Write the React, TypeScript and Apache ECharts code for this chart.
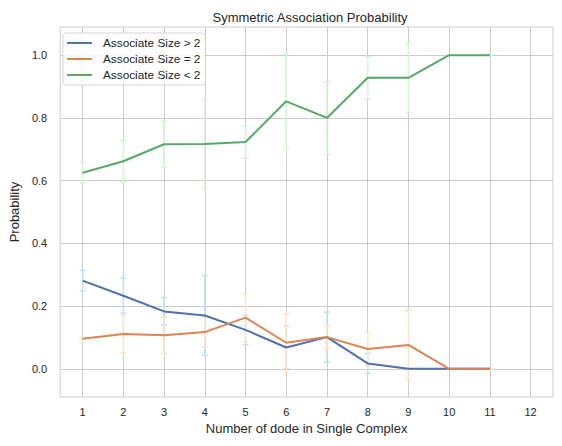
import React, { useEffect, useRef } from "react";
import * as echarts from "echarts";

const xValues = [1, 2, 3, 4, 5, 6, 7, 8, 9, 10, 11];
const xTicks = [1, 2, 3, 4, 5, 6, 7, 8, 9, 10, 11, 12];
const yTicks = [0.0, 0.2, 0.4, 0.6, 0.8, 1.0];

const gtTwo = [0.281, 0.233, 0.183, 0.170, 0.124, 0.068, 0.101, 0.017, 0.0, 0.0, 0.0];
const gtTwoErr = [0.033, 0.056, 0.044, 0.127, 0.047, 0.068, 0.080, 0.032, 0, 0, 0];

const eqTwo = [0.096, 0.111, 0.107, 0.117, 0.163, 0.083, 0.101, 0.063, 0.076, 0.0, 0.0];
const eqTwoErr = [0.004, 0.060, 0.058, 0.048, 0.077, 0.092, 0.037, 0.053, 0.110, 0, 0];

const ltTwo = [0.625, 0.662, 0.716, 0.717, 0.723, 0.853, 0.800, 0.928, 0.928, 1.0, 1.0];
const ltTwoErr = [0.032, 0.066, 0.074, 0.141, 0.051, 0.152, 0.115, 0.068, 0.111, 0, 0];

const seriesNames = ["Associate Size > 2", "Associate Size = 2", "Associate Size < 2"];
const lineColors = ["#4C72B0", "#DD8452", "#55A868"];
const errColors = ["#c6dff3", "#fde2cc", "#d6f4d6"];

const FONT = "'Liberation Sans', Arial, sans-serif";
const TEXT = "#262626";

function errSeries(name: string, vals: number[], errs: number[], color: string) {
  return {
    name,
    type: "custom",
    z: 1,
    silent: true,
    data: xValues.map((x, i) => [x, vals[i], errs[i]]),
    renderItem: (_params: any, api: any) => {
      const x = api.value(0);
      const y = api.value(1);
      const e = api.value(2);
      const top = api.coord([x, y + e]);
      const bot = api.coord([x, y - e]);
      const cap = 3;
      const style = { stroke: color, lineWidth: 1.6 };
      return {
        type: "group",
        children: [
          { type: "line", shape: { x1: top[0], y1: top[1], x2: bot[0], y2: bot[1] }, style },
          { type: "line", shape: { x1: top[0] - cap, y1: top[1], x2: top[0] + cap, y2: top[1] }, style },
          { type: "line", shape: { x1: bot[0] - cap, y1: bot[1], x2: bot[0] + cap, y2: bot[1] }, style },
        ],
      };
    },
  };
}

function lineSeries(name: string, vals: number[], color: string, z: number) {
  return {
    name,
    type: "line",
    z,
    data: xValues.map((x, i) => [x, vals[i]]),
    symbol: "none",
    lineStyle: { color, width: 2 },
    itemStyle: { color },
  };
}

export default function App() {
  const ref = useRef<HTMLDivElement>(null);
  useEffect(() => {
    if (!ref.current) return;
    const chart = echarts.init(ref.current, undefined, { renderer: "svg" });
    chart.setOption({
      animation: false,
      backgroundColor: "#ffffff",
      textStyle: { fontFamily: FONT },
      title: {
        text: "Symmetric Association Probability",
        left: 305,
        textAlign: "center",
        top: 6,
        textStyle: { fontFamily: FONT, fontSize: 13, fontWeight: "normal", color: TEXT },
      },
      legend: {
        orient: "vertical",
        left: 63,
        top: 33,
        data: seriesNames.map((n, i) => ({ name: n, icon: "rect", itemStyle: { color: lineColors[i] } })),
        itemWidth: 25,
        itemHeight: 2,
        itemGap: 4,
        padding: [4, 5, 4, 4],
        backgroundColor: "rgba(255,255,255,0.85)",
        borderColor: "#d6d6d6",
        borderWidth: 1,
        borderRadius: 3,
        textStyle: { fontFamily: FONT, fontSize: 11.8, color: TEXT, padding: [0, 0, 0, 6] },
      },
      grid: {
        left: 57,
        right: 9,
        top: 27,
        bottom: 49,
        show: true,
        borderColor: "#cccccc",
        borderWidth: 1,
        containLabel: false,
      },
      xAxis: {
        type: "value",
        min: 0.45,
        max: 12.55,
        name: "Number of dode in Single Complex",
        nameLocation: "middle",
        nameGap: 22,
        nameTextStyle: { fontFamily: FONT, fontSize: 13, color: TEXT },
        axisLine: { show: false },
        axisTick: { show: false, customValues: xTicks },
        axisLabel: {
          customValues: xTicks,
          margin: 9,
          fontSize: 11,
          fontFamily: FONT,
          color: TEXT,
          formatter: (v: number) => String(v),
        },
        splitLine: { show: true, lineStyle: { color: "#cccccc", width: 1 } },
      },
      yAxis: {
        type: "value",
        min: -0.09,
        max: 1.09,
        name: "Probability",
        nameLocation: "middle",
        nameGap: 35,
        nameTextStyle: { fontFamily: FONT, fontSize: 13, color: TEXT },
        axisLine: { show: false },
        axisTick: { show: false, customValues: yTicks },
        axisLabel: {
          customValues: yTicks,
          margin: 13,
          fontSize: 11,
          fontFamily: FONT,
          color: TEXT,
          formatter: (v: number) => v.toFixed(1),
        },
        splitLine: { show: true, lineStyle: { color: "#cccccc", width: 1 } },
      },
      series: [
        errSeries("err0", gtTwo, gtTwoErr, errColors[0]),
        errSeries("err1", eqTwo, eqTwoErr, errColors[1]),
        errSeries("err2", ltTwo, ltTwoErr, errColors[2]),
        lineSeries(seriesNames[0], gtTwo, lineColors[0], 3),
        lineSeries(seriesNames[1], eqTwo, lineColors[1], 4),
        lineSeries(seriesNames[2], ltTwo, lineColors[2], 5),
      ],
    });
    return () => chart.dispose();
  }, []);
  return (
    <div
      ref={ref}
      style={{ position: "fixed", left: 0, top: 0, width: 562, height: 446 }}
    />
  );
}
